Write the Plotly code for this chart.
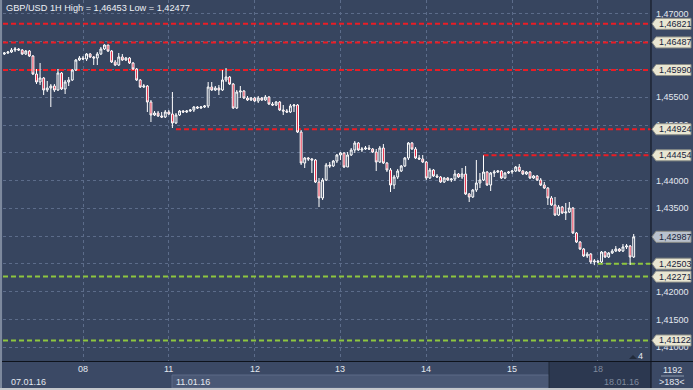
import plotly.graph_objects as go

# ---------------- data ----------------
title_text = "GBP/USD 1H High = 1,46453 Low = 1,42477"
first_open = 1.46278
close = [1.46296, 1.46314, 1.4635, 1.46368, 1.4635, 1.46278, 1.46332, 1.46242, 1.45918, 1.45774,
         1.45846, 1.4563, 1.45666, 1.45702, 1.4563, 1.45936, 1.45648, 1.45774, 1.4581, 1.4599,
         1.4617, 1.46206, 1.46188, 1.46278, 1.46224, 1.46206, 1.46278, 1.46368, 1.4644, 1.46332,
         1.46134, 1.4608, 1.46224, 1.4617, 1.46206, 1.46116, 1.46008, 1.4581, 1.45684, 1.45702,
         1.45414, 1.4518, 1.45216, 1.45162, 1.45144, 1.45234, 1.45198, 1.45036, 1.4518, 1.45252,
         1.45234, 1.45252, 1.4527, 1.45324, 1.45306, 1.45324, 1.45342, 1.45684, 1.4563, 1.45666,
         1.4563, 1.4581, 1.45864, 1.45738, 1.45306, 1.45594, 1.45612, 1.45486, 1.4545, 1.45486,
         1.45432, 1.45486, 1.4545, 1.45504, 1.45378, 1.4536, 1.45414, 1.4527, 1.45252, 1.45234,
         1.45342, 1.4536, 1.44874, 1.44316, 1.44406, 1.44388, 1.4437, 1.43974, 1.43686, 1.4401,
         1.4428, 1.44262, 1.44352, 1.4446, 1.44496, 1.44244, 1.4446, 1.4455, 1.44676, 1.4455,
         1.44568, 1.44586, 1.44568, 1.44514, 1.44334, 1.44586, 1.44316, 1.4419, 1.4392, 1.44064,
         1.44172, 1.44262, 1.44406, 1.44676, 1.44568, 1.44406, 1.44388, 1.44334, 1.44046, 1.4419,
         1.44082, 1.44064, 1.43974, 1.44046, 1.4401, 1.44028, 1.44118, 1.44064, 1.44118, 1.43758,
         1.43704, 1.4383, 1.43956, 1.4401, 1.44154, 1.4392, 1.44136, 1.44154, 1.44172, 1.44046,
         1.44136, 1.44154, 1.44172, 1.44244, 1.44172, 1.44118, 1.44154, 1.44046, 1.44082, 1.4401,
         1.4392, 1.43866, 1.43686, 1.4356, 1.4338, 1.43524, 1.43416, 1.43434, 1.43506, 1.43056,
         1.42894, 1.42768, 1.42642, 1.42678, 1.42534, 1.42552, 1.42534, 1.42714, 1.42624, 1.42696,
         1.42732, 1.42768, 1.42732, 1.42804, 1.42822, 1.42624, 1.42987]
high = [1.46314, 1.46332, 1.46386, 1.46404, 1.46386, 1.46368, 1.4635, 1.4635, 1.4626, 1.46008,
        1.46116, 1.45864, 1.45792, 1.45738, 1.45738, 1.46008, 1.45954, 1.4581, 1.45864, 1.46008,
        1.46188, 1.46242, 1.46242, 1.46296, 1.46296, 1.46242, 1.46314, 1.46404, 1.46453, 1.4644,
        1.4635, 1.4617, 1.46296, 1.46278, 1.46224, 1.46224, 1.46134, 1.46026, 1.45828, 1.45738,
        1.4572, 1.4545, 1.45252, 1.45252, 1.45234, 1.4527, 1.4527, 1.45594, 1.45216, 1.4527,
        1.4527, 1.4527, 1.45288, 1.45342, 1.45342, 1.45342, 1.4536, 1.45774, 1.45774, 1.45702,
        1.4572, 1.4599, 1.46026, 1.45882, 1.45756, 1.4563, 1.45702, 1.4563, 1.45522, 1.45504,
        1.45504, 1.45522, 1.45504, 1.4554, 1.45522, 1.45414, 1.45432, 1.45432, 1.4536, 1.45288,
        1.45378, 1.45378, 1.45378, 1.4491, 1.44424, 1.44424, 1.44406, 1.44388, 1.44046, 1.44046,
        1.44316, 1.44334, 1.4437, 1.44478, 1.44514, 1.44514, 1.44514, 1.44586, 1.44712, 1.44694,
        1.44604, 1.44622, 1.4464, 1.44586, 1.44568, 1.44622, 1.44658, 1.44334, 1.44226, 1.441,
        1.44208, 1.4428, 1.44424, 1.44694, 1.44694, 1.44604, 1.4446, 1.4446, 1.44352, 1.44226,
        1.44208, 1.44118, 1.44082, 1.44064, 1.44064, 1.44046, 1.4419, 1.44136, 1.44226, 1.44262,
        1.43776, 1.43848, 1.4437, 1.44136, 1.44454, 1.44172, 1.44154, 1.4419, 1.4419, 1.4419,
        1.44154, 1.44172, 1.4419, 1.44262, 1.44298, 1.4419, 1.44172, 1.44172, 1.441, 1.441,
        1.44046, 1.43974, 1.43884, 1.43722, 1.43704, 1.4356, 1.43542, 1.43596, 1.43614, 1.43524,
        1.43074, 1.42912, 1.42786, 1.42714, 1.42696, 1.42588, 1.4257, 1.42732, 1.42732, 1.42714,
        1.42768, 1.42822, 1.42786, 1.42858, 1.42858, 1.4284, 1.43038]
low = [1.4626, 1.46278, 1.46296, 1.46314, 1.46332, 1.4626, 1.4626, 1.46224, 1.459, 1.45738,
       1.4572, 1.4554, 1.45594, 1.45324, 1.45594, 1.45612, 1.4563, 1.45558, 1.45702, 1.45792,
       1.45972, 1.46152, 1.4617, 1.46152, 1.46206, 1.4608, 1.4608, 1.4626, 1.4635, 1.46314,
       1.46116, 1.46062, 1.46062, 1.46152, 1.46152, 1.46098, 1.4599, 1.45792, 1.45666, 1.45666,
       1.45234, 1.45054, 1.45162, 1.45144, 1.45126, 1.45126, 1.4518, 1.44946, 1.45018, 1.45162,
       1.45216, 1.45216, 1.45234, 1.45234, 1.45288, 1.45288, 1.45306, 1.45306, 1.45612, 1.45612,
       1.4554, 1.45612, 1.45774, 1.4572, 1.45288, 1.45288, 1.45486, 1.45468, 1.45432, 1.45432,
       1.45414, 1.45396, 1.45432, 1.45432, 1.4536, 1.45342, 1.45342, 1.45252, 1.4518, 1.45216,
       1.45216, 1.45234, 1.44856, 1.4428, 1.44226, 1.44352, 1.44136, 1.43956, 1.43524, 1.4365,
       1.43992, 1.44226, 1.44244, 1.44316, 1.4437, 1.44226, 1.44244, 1.44442, 1.44496, 1.44532,
       1.44514, 1.4455, 1.4455, 1.44496, 1.44172, 1.44316, 1.44298, 1.44154, 1.43794, 1.43848,
       1.44028, 1.44154, 1.44244, 1.4437, 1.4455, 1.44388, 1.4437, 1.44316, 1.4401, 1.44028,
       1.44064, 1.44046, 1.43956, 1.43956, 1.43992, 1.43974, 1.43992, 1.44046, 1.44028, 1.4374,
       1.43614, 1.43686, 1.43794, 1.43866, 1.43992, 1.43902, 1.43812, 1.44064, 1.44136, 1.44028,
       1.44028, 1.44118, 1.44118, 1.44154, 1.44154, 1.441, 1.441, 1.44028, 1.44028, 1.43992,
       1.43902, 1.43848, 1.4356, 1.43542, 1.43362, 1.43362, 1.43398, 1.4329, 1.43416, 1.43038,
       1.42876, 1.4275, 1.42624, 1.42606, 1.42498, 1.42477, 1.42516, 1.42516, 1.42606, 1.42606,
       1.42678, 1.42714, 1.42714, 1.42714, 1.42768, 1.4248, 1.42606]
opens = [first_open] + close[:-1]
bars = list(range(len(close)))

day_labels = ["08", "11", "12", "13", "14", "15", "18"]
day_start = [22, 46, 70, 94, 118, 142, 166]
date_labels = ["07.01.16", "11.01.16", "18.01.16"]
price_ticks = [1.410, 1.415, 1.420, 1.425, 1.430, 1.435, 1.440, 1.445,
               1.450, 1.455, 1.460, 1.465, 1.470]
hidden_tick_labels = [1.425, 1.430, 1.445, 1.460, 1.465]   # covered by price tags
red_levels = [1.46821, 1.46487, 1.45990, 1.44924, 1.44454]
red_start = [None, None, None, 48, 134]
green_levels = [1.42503, 1.42271, 1.41122]
green_start = [166, None, None]
last_price = 1.42987
bar_count_text = "1192"
visible_text = ">183<"
corner_num = "4"

# ---------------- style ----------------
W, H = 693, 390
PLOT_BG = "#37455f"
PAPER_BG = "#3b4965"
GRID = "#5c6c8a"
RED = "#ec1c24"
GREEN = "#8ec63f"
TXT = "#e3e8f0"
FONT = "Liberation Sans, Arial, sans-serif"
X_LEFT, X_RIGHT, Y_BOTTOM = 3, 651, 361
XMIN, XMAX = -0.372, 180.84
YMIN, YMAX = 1.40752, 1.4725


def px(x):
    return x / W


def py(y):
    return 1 - y / H


def fmt(v):
    return f"{v:.5f}".replace(".", ",")


fig = go.Figure()
fig.add_trace(go.Candlestick(
    x=bars, open=opens, high=high, low=low, close=close,
    increasing=dict(line=dict(color="#ffffff", width=1), fillcolor=PLOT_BG),
    decreasing=dict(line=dict(color="#ffffff", width=1), fillcolor="#e4102e"),
    whiskerwidth=0, hoverinfo="none", showlegend=False,
))

shapes = []
for lv, st in zip(red_levels, red_start):
    shapes.append(dict(type="line", xref="x", yref="y",
                       x0=XMIN if st is None else st, x1=XMAX, y0=lv, y1=lv,
                       line=dict(color=RED, width=2, dash="5px,3px"), layer="between"))
for lv, st in zip(green_levels, green_start):
    shapes.append(dict(type="line", xref="x", yref="y",
                       x0=XMIN if st is None else st, x1=XMAX, y0=lv, y1=lv,
                       line=dict(color=GREEN, width=2, dash="5px,3px"), layer="between"))

shapes += [
    dict(type="rect", xref="paper", yref="paper", x0=px(172), x1=px(549), y0=py(388), y1=py(375),
         fillcolor="#4a5875", line=dict(color="#5d6b88", width=1), layer="above"),
    dict(type="rect", xref="paper", yref="paper", x0=px(549), x1=px(651), y0=py(388), y1=py(361),
         fillcolor="#2c3850", line=dict(width=0), layer="above"),
    dict(type="line", xref="paper", yref="paper", x0=px(549), x1=px(549), y0=py(388), y1=py(361),
         line=dict(color="#1e2838", width=1), layer="above"),
    dict(type="line", xref="paper", yref="paper", x0=0, x1=1, y0=py(361.5), y1=py(361.5),
         line=dict(color="#0e131c", width=1), layer="above"),
    dict(type="line", xref="paper", yref="paper", x0=px(651), x1=px(651), y0=0, y1=1,
         line=dict(color="#0e131c", width=1), layer="above"),
    dict(type="rect", xref="paper", yref="paper", x0=0, x1=1, y0=0, y1=py(388),
         fillcolor="#c6c8cc", line=dict(width=0), layer="above"),
    dict(type="rect", xref="paper", yref="paper", x0=0, x1=px(2), y0=py(388), y1=1,
         fillcolor="#7d899d", line=dict(width=0), layer="above"),
    dict(type="line", xref="paper", yref="paper", x0=px(661), x1=px(684), y0=py(376), y1=py(376),
         line=dict(color="#8c98ab", width=1), layer="above"),
    dict(type="path", xref="paper", yref="paper",
         path=f"M{px(629)},{py(359)} L{px(633)},{py(355)} L{px(637)},{py(359)} Z",
         fillcolor="#222b3a", line=dict(width=0), layer="above"),
]

annotations = [
    dict(text=title_text, xref="paper", yref="paper", x=px(4), y=py(7.5),
         xanchor="left", yanchor="middle", showarrow=False,
         font=dict(family=FONT, size=9.2, color="#eef1f6")),
    dict(text=bar_count_text, xref="paper", yref="paper", x=px(672), y=py(369.5),
         xanchor="center", yanchor="middle", showarrow=False,
         font=dict(family=FONT, size=9, color=TXT)),
    dict(text=visible_text, xref="paper", yref="paper", x=px(672), y=py(382),
         xanchor="center", yanchor="middle", showarrow=False,
         font=dict(family=FONT, size=9, color=TXT)),
    dict(text=corner_num, xref="paper", yref="paper", x=px(640.5), y=py(356),
         xanchor="center", yanchor="middle", showarrow=False,
         font=dict(family=FONT, size=9, color=TXT)),
]

for lab, d in zip(day_labels, day_start):
    col = "#7f8a9d" if d == day_start[-1] else TXT
    annotations.append(dict(text=lab, xref="x", yref="paper", x=d, y=py(368.5),
                            xanchor="center", yanchor="middle", showarrow=False,
                            font=dict(family=FONT, size=9, color=col)))
annotations.append(dict(text=date_labels[0], xref="paper", yref="paper", x=px(9), y=py(382),
                        xanchor="left", yanchor="middle", showarrow=False,
                        font=dict(family=FONT, size=9, color=TXT)))
annotations.append(dict(text=date_labels[1], xref="x", yref="paper", x=day_start[1], y=py(382),
                        xanchor="left", yanchor="middle", showarrow=False, xshift=5,
                        font=dict(family=FONT, size=9, color=TXT)))
annotations.append(dict(text=date_labels[2], xref="x", yref="paper", x=day_start[-1], y=py(382),
                        xanchor="left", yanchor="middle", showarrow=False, xshift=4,
                        font=dict(family=FONT, size=9, color="#7f8a9d")))

tag_path = "M1,0 L5,-5.5 L40,-5.5 L40,5.5 L5,5.5 Z"
for lv in red_levels + green_levels + [last_price]:
    is_cur = lv == last_price
    shapes.append(dict(type="path", xref="paper", yref="y",
                       xsizemode="pixel", ysizemode="pixel",
                       xanchor=px(X_RIGHT), yanchor=lv, path=tag_path,
                       fillcolor="#b9c1cd" if is_cur else "#e9e6d2",
                       line=dict(color="#8d8f88", width=1), layer="above"))
    annotations.append(dict(text=fmt(lv), xref="paper", yref="y",
                            x=px(656.5), y=lv, xanchor="left", yanchor="middle",
                            showarrow=False,
                            font=dict(family=FONT, size=9, color="#16223a")))

tick_text = ["" if any(abs(t - h) < 1e-9 for h in hidden_tick_labels) else fmt(t)
             for t in price_ticks]

fig.update_layout(
    width=W, height=H, margin=dict(l=0, r=0, t=0, b=0), autosize=False,
    paper_bgcolor=PAPER_BG, plot_bgcolor=PLOT_BG,
    showlegend=False, boxgap=0.25,
    shapes=shapes, annotations=annotations,
    xaxis=dict(domain=[px(X_LEFT), px(X_RIGHT)], range=[XMIN, XMAX],
               rangeslider=dict(visible=False), tickmode="array", tickvals=day_start,
               showticklabels=False, ticks="", showgrid=True, gridcolor=GRID,
               griddash="3px,3px", gridwidth=1, zeroline=False, showline=False,
               fixedrange=True),
    yaxis=dict(domain=[1 - Y_BOTTOM / H, 1], range=[YMIN, YMAX], side="right",
               tickmode="array", tickvals=price_ticks, ticktext=tick_text,
               ticks="", ticklabelstandoff=4,
               tickfont=dict(family=FONT, size=9, color=TXT),
               showgrid=True, gridcolor=GRID, griddash="3px,3px", gridwidth=1,
               zeroline=False, showline=False, fixedrange=True),
)

fig.write_html("out.html", config={"displayModeBar": False},
               post_script="document.body.style.margin='0';")
